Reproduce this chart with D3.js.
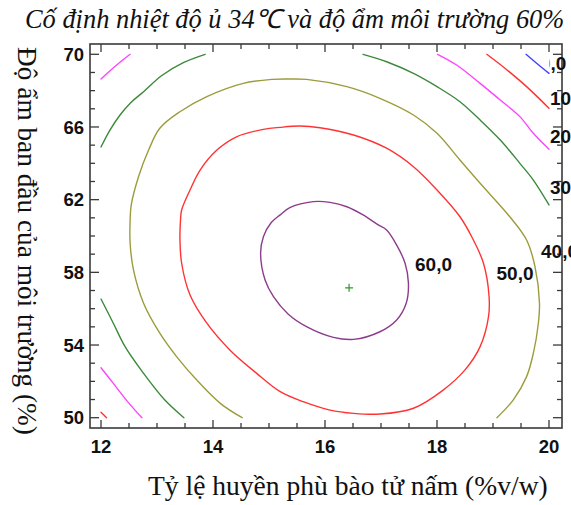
<!DOCTYPE html>
<html>
<head>
<meta charset="utf-8">
<script src="https://cdn.jsdelivr.net/npm/d3@7"></script>
<style>
  html, body { margin: 0; padding: 0; background: #fff; }
  svg { display: block; }
</style>
</head>
<body>
<svg id="chart" width="571" height="505"></svg>
<script>
// Contour plot of the estimated response surface (levels 0 … 60)
const levels = [0, 10, 20, 30, 40, 50, 60];
const levelLabels = ["0,0", "10,0", "20,0", "30,0", "40,0", "50,0", "60,0"];

// Iso-lines, [spore suspension %v/w, initial moisture %]
const contour0 = [[19.59, 70.0], [19.80, 69.45], [20.0, 68.95]];
const contour10TopRight = [[18.89, 70.0], [19.25, 69.14], [19.60, 68.22], [20.0, 67.03]];
const contour10BottomLeft = [[12.0, 50.30], [12.10, 50.0]];
const contour20TopLeft = [[12.0, 68.64], [12.28, 69.41], [12.52, 70.0]];
const contour20TopRight = [[18.01, 70.0], [18.35, 69.41], [18.77, 68.40], [19.13, 67.48], [19.48, 66.57], [19.72, 65.65], [20.0, 64.77]];
const contour20BottomLeft = [[12.0, 52.75], [12.22, 51.89], [12.49, 50.83], [12.73, 50.0]];
const contour30TopLeft = [[12.0, 64.9], [12.16, 65.83], [12.34, 66.66], [12.53, 67.34], [12.76, 67.94], [13.08, 68.82], [13.47, 69.54], [13.86, 70.0]];
const contour30TopRight = [[16.68, 70.0], [17.10, 69.59], [17.58, 68.95], [18.0, 68.22], [18.41, 67.39], [18.77, 66.38], [19.13, 65.28], [19.48, 64.0], [19.72, 63.08], [20.0, 61.71]];
const contour30BottomLeft = [[12.0, 56.53], [12.22, 55.20], [12.43, 53.91], [12.76, 52.44], [13.14, 50.97], [13.48, 50.0]];
const contour40 = [[14.52, 50.0], [14.13, 50.79], [13.71, 52.07], [13.35, 53.36], [13.05, 54.65], [12.76, 56.30], [12.58, 58.13], [12.52, 59.60], [12.52, 60.88], [12.54, 61.71], [12.67, 63.26], [12.85, 64.73], [13.05, 65.93], [13.41, 66.84], [13.89, 67.67], [14.54, 68.40], [15.05, 68.62], [15.38, 68.64], [15.67, 68.62], [16.39, 68.22], [16.98, 67.58], [17.58, 66.66], [18.0, 65.65], [18.41, 64.18], [18.77, 62.90], [19.30, 61.06], [19.60, 59.78], [19.75, 58.31], [19.83, 56.30], [19.81, 55.20], [19.72, 53.54], [19.60, 52.26], [19.36, 50.97], [19.07, 50.0]];
const contour50 = [[13.42, 60.88], [13.44, 61.43], [13.59, 62.53], [13.77, 63.63], [14.07, 64.73], [14.42, 65.46], [14.90, 65.87], [15.20, 65.98], [15.55, 66.05], [15.91, 65.96], [16.51, 65.56], [17.10, 64.83], [17.58, 63.81], [18.0, 62.53], [18.41, 61.06], [18.62, 59.96], [18.83, 58.50], [18.93, 56.66], [18.92, 55.56], [18.77, 53.91], [18.50, 52.63], [18.11, 51.52], [17.58, 50.52], [16.98, 50.20], [16.51, 50.24], [16.09, 50.42], [15.61, 50.88], [15.20, 51.43], [14.78, 52.44], [14.30, 53.73], [13.89, 55.20], [13.59, 56.75], [13.44, 58.50], [13.41, 59.78]];
const contour60 = [[14.85, 59.05], [14.90, 59.96], [15.04, 60.74], [15.20, 61.16], [15.38, 61.57], [15.79, 61.89], [16.09, 61.85], [16.39, 61.61], [16.68, 61.16], [16.95, 60.61], [17.10, 60.33], [17.28, 59.50], [17.43, 58.50], [17.49, 57.40], [17.45, 56.30], [17.28, 55.38], [16.98, 54.73], [16.51, 54.31], [16.15, 54.42], [15.67, 55.01], [15.34, 55.71], [15.08, 56.66], [14.93, 57.58]];

// Location of the optimum (centre of the innermost ellipse)
const optimum = [16.43, 57.15];

// Axis ticks
const xLabelTicks = [12, 14, 16, 18, 20];
const yLabelTicks = [50, 54, 58, 62, 66, 70];

const lineColors = {0: "#4040ff", 10: "#ff3333", 20: "#ff44ff", 30: "#3b8a3b", 40: "#9c9c3c", 50: "#ff3333", 60: "#8c3c8c"};

const pieces = [
  {level: 0, pts: contour0, closed: false},
  {level: 10, pts: contour10TopRight, closed: false},
  {level: 10, pts: contour10BottomLeft, closed: false},
  {level: 20, pts: contour20TopLeft, closed: false},
  {level: 20, pts: contour20TopRight, closed: false},
  {level: 20, pts: contour20BottomLeft, closed: false},
  {level: 30, pts: contour30TopLeft, closed: false},
  {level: 30, pts: contour30TopRight, closed: false},
  {level: 30, pts: contour30BottomLeft, closed: false},
  {level: 40, pts: contour40, closed: false},
  {level: 50, pts: contour50, closed: true},
  {level: 60, pts: contour60, closed: true}
];

const svg = d3.select("#chart");
const frame = {left: 90, right: 562, top: 44, bottom: 428};

const x = d3.scaleLinear().domain([12, 20]).range([101, 549]);
const y = d3.scaleLinear().domain([50, 70]).range([417.7, 54.3]);

svg.append("rect").attr("width", 571).attr("height", 505).attr("fill", "#fff");

// clip for the iso-lines: the data region
svg.append("clipPath").attr("id", "dataClip")
  .append("rect")
  .attr("x", x(12) - 1).attr("y", y(70) - 1)
  .attr("width", x(20) - x(12) + 2).attr("height", y(50) - y(70) + 2);

const openLine = d3.line().x(d => x(d[0])).y(d => y(d[1])).curve(d3.curveCatmullRom.alpha(0.5));
const closedLine = d3.line().x(d => x(d[0])).y(d => y(d[1])).curve(d3.curveCatmullRomClosed.alpha(0.5));

const gLines = svg.append("g").attr("clip-path", "url(#dataClip)");
gLines.selectAll("path")
  .data(pieces)
  .join("path")
  .attr("d", d => (d.closed ? closedLine : openLine)(d.pts))
  .attr("fill", "none")
  .attr("stroke", d => lineColors[d.level])
  .attr("stroke-width", 1.4)
  .attr("stroke-linejoin", "round")
  .attr("stroke-linecap", "round");

// optimum marker
const ox = x(optimum[0]), oy = y(optimum[1]);
svg.append("path")
  .attr("d", `M${ox - 4},${oy}H${ox + 4}M${ox},${oy - 4}V${oy + 4}`)
  .attr("stroke", "#2e9a2e").attr("stroke-width", 1.2);

// frame and ticks
const axisColor = "#3a3a3a";
svg.append("rect")
  .attr("x", frame.left).attr("y", frame.top)
  .attr("width", frame.right - frame.left).attr("height", frame.bottom - frame.top)
  .attr("fill", "none").attr("stroke", axisColor).attr("stroke-width", 1.6);

const xTicks = d3.range(12, 20.001, 0.5);
const yTicks = d3.range(50, 70.001, 1);
const isMajorX = v => xLabelTicks.includes(v);
const isMajorY = v => yLabelTicks.includes(v);

const gTicks = svg.append("g").attr("stroke", axisColor).attr("stroke-width", 1.3);
xTicks.forEach(v => {
  const len = isMajorX(v) ? 8 : 5;
  gTicks.append("line").attr("x1", x(v)).attr("x2", x(v)).attr("y1", frame.bottom).attr("y2", frame.bottom - len);
  gTicks.append("line").attr("x1", x(v)).attr("x2", x(v)).attr("y1", frame.top).attr("y2", frame.top + len);
});
yTicks.forEach(v => {
  const len = isMajorY(v) ? 9 : 5;
  gTicks.append("line").attr("y1", y(v)).attr("y2", y(v)).attr("x1", frame.left).attr("x2", frame.left + len);
  gTicks.append("line").attr("y1", y(v)).attr("y2", y(v)).attr("x1", frame.right).attr("x2", frame.right - len);
});

// tick labels
const tickFont = "'Liberation Sans', Arial, sans-serif";
svg.append("g").selectAll("text").data(xLabelTicks).join("text")
  .attr("x", d => x(d)).attr("y", 453)
  .attr("text-anchor", "middle")
  .attr("font-family", tickFont).attr("font-weight", "bold").attr("font-size", 18.5)
  .attr("fill", "#111")
  .text(d => d);
svg.append("g").selectAll("text").data(yLabelTicks).join("text")
  .attr("x", 84).attr("y", d => y(d) + 6.7)
  .attr("text-anchor", "end")
  .attr("font-family", tickFont).attr("font-weight", "bold").attr("font-size", 18.5)
  .attr("fill", "#111")
  .text(d => d);

// contour level labels
const labelPlaces = [
  {level: 0, px: 540, py: 70},
  {level: 10, px: 550, py: 105},
  {level: 20, px: 550, py: 143},
  {level: 30, px: 550, py: 194},
  {level: 40, px: 541, py: 258},
  {level: 50, px: 496.5, py: 280},
  {level: 60, px: 415, py: 271}
];
svg.append("clipPath").attr("id", "zeroClip")
  .append("rect").attr("x", 549.5).attr("y", 40).attr("width", 30).attr("height", 40);
svg.append("g").selectAll("text").data(labelPlaces).join("text")
  .attr("x", d => d.px).attr("y", d => d.py)
  .attr("clip-path", d => d.level === 0 ? "url(#zeroClip)" : null)
  .attr("font-family", tickFont).attr("font-weight", "bold").attr("font-size", 19)
  .attr("fill", "#111")
  .text(d => levelLabels[levels.indexOf(d.level)]);

// titles
function fitText(sel, targetWidth, baseSize) {
  sel.attr("font-size", baseSize);
  const w = sel.node().getComputedTextLength();
  sel.attr("font-size", baseSize * targetWidth / w);
}
const serif = "'Liberation Serif', 'Times New Roman', serif";
const title = svg.append("text")
  .attr("x", 25).attr("y", 28)
  .attr("font-family", serif).attr("font-style", "italic").attr("fill", "#111")
  .text("Cố định nhiệt độ ủ 34℃ và độ ẩm môi trường 60%");
fitText(title, 540, 23);

const xTitle = svg.append("text")
  .attr("x", 148).attr("y", 495)
  .attr("font-family", serif).attr("fill", "#111")
  .text("Tỷ lệ huyền phù bào tử nấm (%v/w)");
fitText(xTitle, 400, 24);

const yTitle = svg.append("text")
  .attr("transform", "translate(18,241) rotate(90)")
  .attr("text-anchor", "middle")
  .attr("font-family", serif).attr("fill", "#111")
  .text("Độ ẩm ban đầu của môi trường (%)");
fitText(yTitle, 388, 24);
</script>
</body>
</html>
